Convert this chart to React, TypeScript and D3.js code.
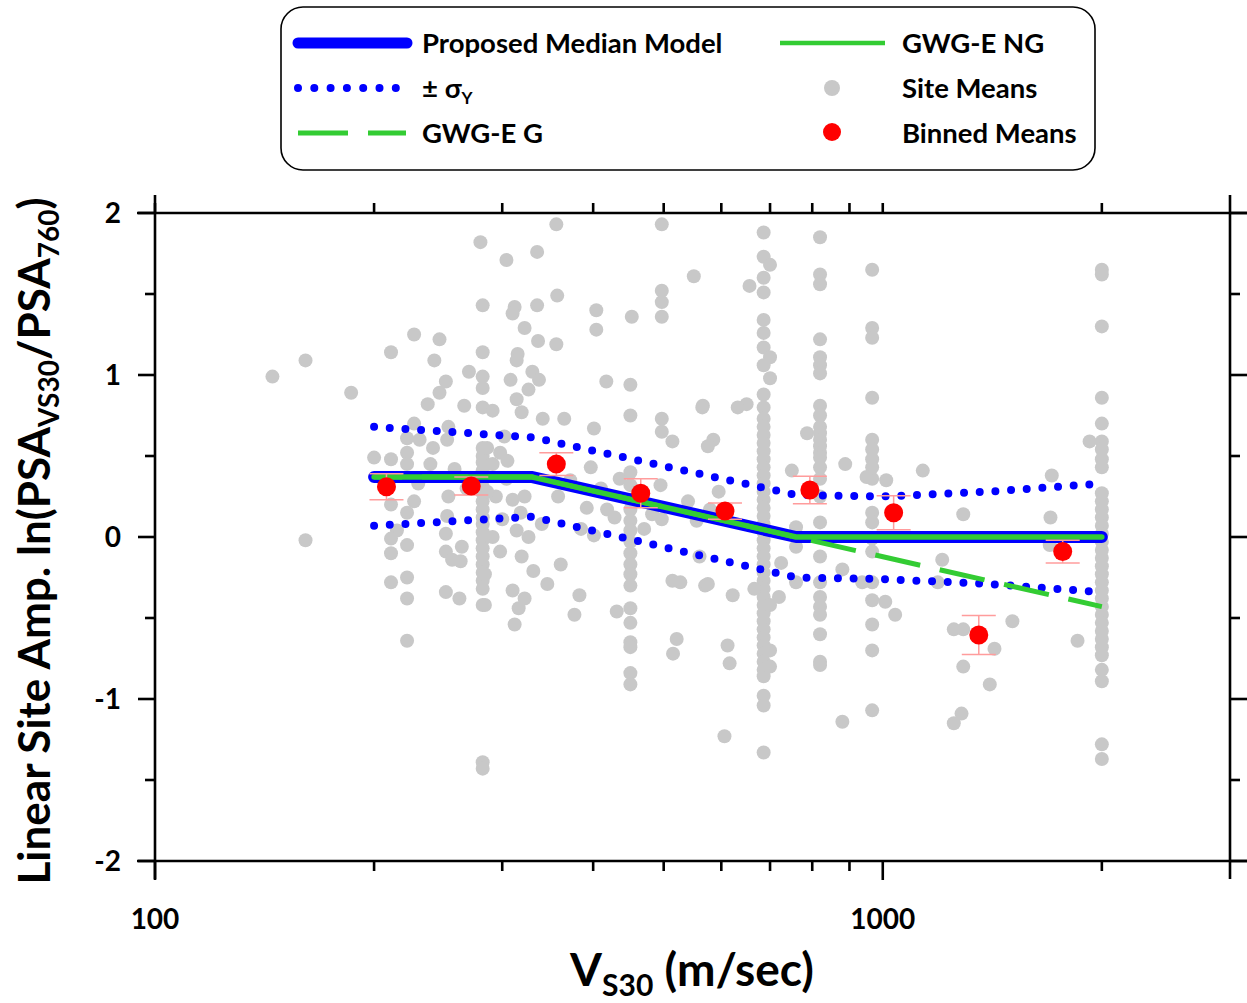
import React from "react";
import * as d3 from "d3";

// ---- data -------------------------------------------------------------
const modelV = [200, 330, 760, 2000];
const modelAmp = [0.37, 0.37, 0, 0];

const gwgNgV = [200, 330, 760, 2000];
const gwgNgAmp = [0.37, 0.37, 0, 0];

const gwgGV = [200, 330, 760, 2000];
const gwgGAmp = [0.37, 0.37, 0, -0.43];

const sigmaV = [200, 330, 760, 1000, 1400, 2000];
const sigmaUpper = [0.68, 0.615, 0.26, 0.25, 0.28, 0.33];
const sigmaLower = [0.07, 0.125, -0.25, -0.26, -0.29, -0.34];

const binV = [208, 272, 356, 465, 607, 794, 1035, 1355, 1767];
const binMean = [0.31, 0.315, 0.45, 0.27, 0.16, 0.29, 0.15, -0.605, -0.09];
const binErr = [0.08, 0.055, 0.07, 0.09, 0.05, 0.085, 0.105, 0.12, 0.07];

// site means: [Vs30, ln amplification]
const siteMeans: [number, number][] = [
  [280, 1.82], [282, 1.43], [145, 0.99], [161, 1.09], [186, 0.89], [227, 1.25], [246, 1.22],
  [211, 1.14], [242, 1.09], [282, 1.14], [270, 1.02], [251, 0.96], [246, 0.89], [237, 0.82],
  [266, 0.81], [282, 0.99], [282, 0.92], [282, 0.8], [227, 0.7], [222, 0.61], [231, 0.6],
  [241, 0.55], [253, 0.68], [252, 0.6], [200, 0.49], [211, 0.48], [222, 0.52], [239, 0.45],
  [222, 0.45], [211, 0.2], [227, 0.22], [222, 0.15], [253, 0.25], [252, 0.13], [215, 0.04],
  [211, -0.01], [211, -0.1], [222, -0.05], [251, 0.02], [251, -0.09], [256, -0.14], [263, -0.15],
  [264, -0.06], [211, -0.28], [222, -0.25], [222, -0.38], [251, -0.34], [262, -0.38], [282, -0.32],
  [282, -0.42], [222, -0.64], [161, -0.02], [282, -1.39], [282, -1.43],
  [282, 0.55], [282, 0.5], [282, 0.46], [282, 0.41], [282, 0.36], [282, 0.31], [282, 0.27],
  [282, 0.22], [282, 0.17], [282, 0.12], [282, 0.08], [282, 0.03], [282, -0.02], [282, -0.07],
  [282, -0.12], [282, -0.17], [282, -0.22], [282, -0.27],
  [356, 1.93], [497, 1.93], [304, 1.71], [335, 1.76], [550, 1.61], [357, 1.49], [312, 1.42],
  [310, 1.38], [335, 1.43], [404, 1.4], [404, 1.28], [452, 1.36], [497, 1.52], [497, 1.45],
  [497, 1.36], [322, 1.29], [336, 1.21], [356, 1.19], [315, 1.13], [314, 1.09], [330, 1.02],
  [337, 0.97], [308, 0.97], [326, 0.91], [314, 0.85], [291, 0.78], [319, 0.77], [417, 0.96],
  [450, 0.94], [450, 0.75], [566, 0.81], [497, 0.73], [365, 0.73], [341, 0.73], [401, 0.67],
  [497, 0.65], [514, 0.59], [302, 0.62], [397, 0.43], [435, 0.36], [495, 0.32], [358, 0.25],
  [418, 0.17], [392, 0.18], [482, 0.14], [497, 0.11], [555, 0.1], [401, 0.01], [361, -0.17],
  [346, -0.29], [383, -0.36], [377, -0.48], [431, -0.46], [514, -0.27], [527, -0.28], [570, -0.3],
  [521, -0.63], [515, -0.72], [310, -0.33], [316, -0.44], [312, -0.54], [322, -0.38], [331, -0.21],
  [319, -0.12], [298, -0.09], [284, -0.23], [284, -0.42],
  [291, 0.45], [304, 0.36], [294, 0.25], [310, 0.23], [322, 0.25], [300, 0.11], [314, 0.04],
  [326, 0.0], [291, 0.0], [286, 0.28], [298, 0.52], [286, 0.55],
  [450, 0.4], [450, 0.32], [450, 0.23], [450, 0.17], [450, 0.1], [450, 0.04], [450, -0.03],
  [450, -0.1], [450, -0.17], [450, -0.23], [450, -0.3], [450, -0.44], [450, -0.53], [450, -0.65],
  [450, -0.68], [450, -0.84], [450, -0.91],
  [686, 1.88], [686, 1.73], [700, 1.68], [686, 1.6], [656, 1.55], [686, 1.51], [686, 1.34],
  [686, 1.26], [686, 1.17], [700, 1.11], [686, 1.06], [700, 0.98], [686, 0.88], [686, 0.8],
  [686, 0.73], [686, 0.68], [686, 0.63], [686, 0.58], [686, 0.53], [686, 0.48], [686, 0.43],
  [686, 0.38], [686, 0.33], [686, 0.28], [686, 0.23], [686, 0.18], [686, 0.13], [686, 0.08],
  [686, 0.03], [686, -0.02], [686, -0.07], [686, -0.12], [686, -0.17], [686, -0.22], [686, -0.27],
  [686, -0.32], [686, -0.37], [686, -0.42], [686, -0.47], [686, -0.52], [686, -0.57], [686, -0.62],
  [686, -0.67], [686, -0.72], [686, -0.77], [686, -0.82], [686, -0.86], [700, -0.42], [700, -0.7],
  [700, -0.8], [686, -0.98], [686, -1.04], [686, -1.33],
  [820, 1.85], [820, 1.62], [820, 1.56], [820, 1.22], [820, 1.11], [820, 1.06], [820, 1.01],
  [820, 0.81], [820, 0.75], [820, 0.68], [820, 0.64], [820, 0.6], [820, 0.56], [820, 0.52],
  [820, 0.49], [820, 0.43], [820, 0.36], [820, 0.25], [820, 0.09], [820, -0.12], [820, -0.28],
  [820, -0.37], [820, -0.43], [820, -0.48], [820, -0.6], [820, -0.77], [820, -0.79],
  [967, 1.65], [967, 1.29], [967, 1.23], [967, 0.86], [967, 0.6], [967, 0.54], [967, 0.48],
  [967, 0.43], [967, 0.36], [967, 0.15], [967, 0.09], [967, -0.01], [967, -0.09], [967, -0.28],
  [967, -0.39], [967, -0.54], [967, -0.7], [967, -1.07],
  [565, 0.8], [585, 0.6], [575, 0.56], [650, 0.82], [632, 0.8], [595, 0.28], [579, 0.17],
  [750, 0.41], [787, 0.64], [888, 0.45], [950, 0.37], [1011, 0.35], [760, 0.06], [760, -0.06],
  [725, -0.16], [880, -0.2], [937, -0.28], [760, -0.28], [720, -0.37], [666, -0.32], [622, -0.36],
  [575, -0.29], [1008, -0.4], [1040, -0.48], [612, -0.67], [616, -0.78], [606, -1.23], [880, -1.14],
  [2000, 1.65], [2000, 1.62], [2000, 1.3], [2000, 0.86], [2000, 0.7], [2000, 0.59], [2000, 0.54],
  [2000, 0.48], [2000, 0.43], [2000, 0.27], [2000, 0.22], [2000, 0.17], [2000, 0.12], [2000, 0.07],
  [2000, 0.02], [2000, -0.03], [2000, -0.08], [2000, -0.13], [2000, -0.18], [2000, -0.23],
  [2000, -0.28], [2000, -0.33], [2000, -0.38], [2000, -0.43], [2000, -0.48], [2000, -0.53],
  [2000, -0.58], [2000, -0.63], [2000, -0.68], [2000, -0.73], [2000, -0.82], [2000, -0.89],
  [2000, -1.28], [2000, -1.37],
  [1924, 0.59], [1135, 0.41], [1707, 0.38], [1290, 0.14], [1700, 0.12], [1696, -0.05],
  [1207, -0.14], [1190, -0.28], [1507, -0.52], [1252, -0.57], [1290, -0.57], [1424, -0.69],
  [1852, -0.64], [1290, -0.8], [1403, -0.91], [1283, -1.09], [1252, -1.15],
  [230, 0.33], [258, 0.42], [268, 0.3], [305, 0.47], [318, 0.15], [340, 0.08], [372, 0.35],
  [385, 0.05], [410, 0.3], [428, 0.12], [470, 0.05], [540, 0.22], [560, -0.12],
];

const xMajorTicks = [100, 1000];
const xMinorTicks = [200, 300, 400, 500, 600, 700, 800, 900, 2000];
const xTickLabels = ["100", "1000"];
const yMajorTicks = [-2, -1, 0, 1, 2];
const yMinorTicks = [-1.5, -0.5, 0.5, 1.5];

// ---- layout -----------------------------------------------------------
const W = 1247;
const H = 1003;
const left = 155;
const right = 1230;
const top = 213;
const bottom = 861;
const ext = 18;

const FONT = "Lato, 'Open Sans', sans-serif";
const BLUE = "#0000ff";
const GREEN = "#33cc33";
const GREY = "#c8c8c8";
const RED = "#ff0000";
const ERR = "#ff9c9c";

const x = d3.scaleLog().domain([100, 3000]).range([left, right]);
const y = d3.scaleLinear().domain([-2, 2]).range([bottom, top]);

const zip = (vs: number[], as: number[]) => vs.map((v, i) => [v, as[i]] as [number, number]);
const line = d3
  .line<[number, number]>()
  .x((d) => x(d[0]))
  .y((d) => y(d[1]));

export default function App() {
  const axisStroke = { stroke: "#000", strokeWidth: 2.6 };

  return (
    <svg
      width={W}
      height={H}
      style={{ position: "absolute", left: 0, top: 0, background: "#fff" }}
      fontFamily={FONT}
      fontWeight="bold"
    >
      <rect x={0} y={0} width={W} height={H} fill="#fff" />

      {/* site means */}
      <g fill={GREY}>
        {siteMeans.map((d, i) => (
          <circle key={i} cx={x(d[0])} cy={y(d[1])} r={7} />
        ))}
      </g>

      {/* ± sigma */}
      {[sigmaUpper, sigmaLower].map((s, i) => (
        <path
          key={i}
          d={line(zip(sigmaV, s)) || ""}
          fill="none"
          stroke={BLUE}
          strokeWidth={8}
          strokeLinecap="round"
          strokeDasharray="0 15.7"
        />
      ))}

      {/* proposed median model */}
      <path
        d={line(zip(modelV, modelAmp)) || ""}
        fill="none"
        stroke={BLUE}
        strokeWidth={12}
        strokeLinecap="round"
        strokeLinejoin="round"
      />
      {/* GWG-E G */}
      <path
        d={line(zip(gwgGV, gwgGAmp)) || ""}
        fill="none"
        stroke={GREEN}
        strokeWidth={5}
        strokeDasharray="46 20"
        strokeDashoffset={18}
      />
      {/* GWG-E NG */}
      <path
        d={line(zip(gwgNgV, gwgNgAmp)) || ""}
        fill="none"
        stroke={GREEN}
        strokeWidth={5.5}
        strokeLinecap="round"
        strokeLinejoin="round"
      />

      {/* binned means with error bars */}
      <g>
        {binV.map((v, i) => {
          const cx = x(v);
          const y1 = y(binMean[i] + binErr[i]);
          const y2 = y(binMean[i] - binErr[i]);
          return (
            <g key={i} stroke={ERR} strokeWidth={1.5}>
              <line x1={cx} x2={cx} y1={y1} y2={y2} />
              <line x1={cx - 17} x2={cx + 17} y1={y1} y2={y1} />
              <line x1={cx - 17} x2={cx + 17} y1={y2} y2={y2} />
            </g>
          );
        })}
        {binV.map((v, i) => (
          <circle key={i} cx={x(v)} cy={y(binMean[i])} r={9.5} fill={RED} />
        ))}
      </g>

      {/* frame */}
      <g {...axisStroke}>
        <line x1={left - ext} x2={W} y1={top} y2={top} />
        <line x1={left - ext} x2={W} y1={bottom} y2={bottom} />
        <line x1={left} x2={left} y1={top - ext} y2={bottom + ext} />
        <line x1={right} x2={right} y1={top - ext} y2={bottom + ext} />
      </g>

      {/* y ticks, left and right */}
      <g {...axisStroke}>
        {yMajorTicks.map((t) => (
          <g key={t}>
            <line x1={left - 17} x2={left} y1={y(t)} y2={y(t)} />
            <line x1={right} x2={right + 17} y1={y(t)} y2={y(t)} />
          </g>
        ))}
        {yMinorTicks.map((t) => (
          <g key={t}>
            <line x1={left - 10} x2={left} y1={y(t)} y2={y(t)} />
            <line x1={right} x2={right + 10} y1={y(t)} y2={y(t)} />
          </g>
        ))}
      </g>

      {/* x ticks, bottom and top */}
      <g {...axisStroke}>
        {xMajorTicks.map((t) => (
          <g key={t}>
            <line x1={x(t)} x2={x(t)} y1={bottom} y2={bottom + 19} />
            <line x1={x(t)} x2={x(t)} y1={top - 10} y2={top} />
          </g>
        ))}
        {xMinorTicks.map((t) => (
          <g key={t}>
            <line x1={x(t)} x2={x(t)} y1={bottom} y2={bottom + 10} />
            <line x1={x(t)} x2={x(t)} y1={top - 10} y2={top} />
          </g>
        ))}
      </g>

      {/* tick labels */}
      <g fontSize={28} fill="#000">
        {yMajorTicks.map((t) => (
          <text key={t} x={121} y={y(t) + 10} textAnchor="end">
            {t}
          </text>
        ))}
        {xMajorTicks.map((t, i) => (
          <text key={t} x={x(t)} y={929} textAnchor="middle">
            {xTickLabels[i]}
          </text>
        ))}
      </g>

      {/* axis titles */}
      <text x={692} y={986} textAnchor="middle" fontSize={46} fill="#000">
        V<tspan fontSize={30} dy={10}>S30</tspan>
        <tspan dy={-10}> (m/sec)</tspan>
      </text>
      <text
        transform="translate(50,541) rotate(-90)"
        textAnchor="middle"
        fontSize={44}
        fill="#000"
      >
        Linear Site Amp. ln(PSA<tspan fontSize={28} dy={9}>VS30</tspan>
        <tspan dy={-9}>/PSA</tspan>
        <tspan fontSize={28} dy={9}>760</tspan>
        <tspan dy={-9}>)</tspan>
      </text>

      {/* legend */}
      <g>
        <rect x={281} y={7} width={814} height={163} rx={22} fill="#fff" stroke="#000" strokeWidth={1.6} />
        <line x1={298} x2={407} y1={43} y2={43} stroke={BLUE} strokeWidth={11} strokeLinecap="round" />
        <line x1={298} x2={402} y1={88} y2={88} stroke={BLUE} strokeWidth={8} strokeLinecap="round" strokeDasharray="0 16.3" />
        <line x1={298} x2={406} y1={133} y2={133} stroke={GREEN} strokeWidth={5} strokeDasharray="50 20" />
        <line x1={780} x2={885} y1={43} y2={43} stroke={GREEN} strokeWidth={4.5} />
        <circle cx={832} cy={88} r={8} fill={GREY} />
        <circle cx={832} cy={132} r={9} fill={RED} />
        <g fontSize={27.5} fill="#000">
          <text x={422} y={53}>Proposed Median Model</text>
          <text x={422} y={98}>
            ± σ<tspan fontSize={17} dy={6}>Y</tspan>
          </text>
          <text x={422} y={143}>GWG-E G</text>
          <text x={902} y={53}>GWG-E NG</text>
          <text x={902} y={98}>Site Means</text>
          <text x={902} y={143}>Binned Means</text>
        </g>
      </g>
    </svg>
  );
}
